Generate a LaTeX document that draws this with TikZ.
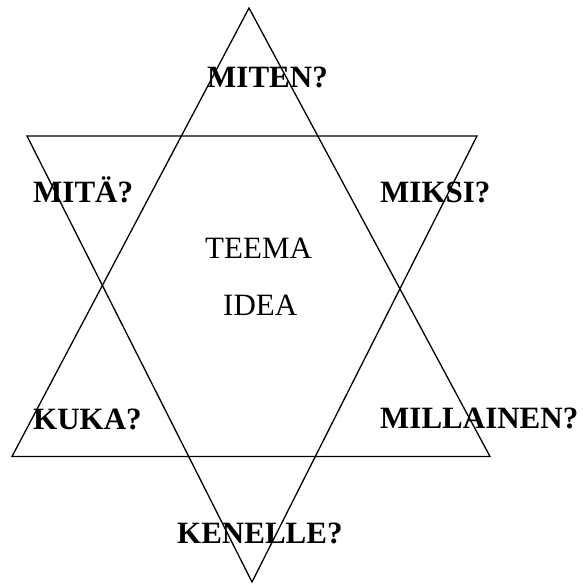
\documentclass[tikz,border=0pt]{standalone}
\usepackage{fontspec}
\setmainfont{Liberation Serif}
\begin{document}
\begin{tikzpicture}[x=1pt,y=-1pt,
  tri/.style={draw=black,line width=1.3pt,line join=miter},
  qlabel/.style={anchor=base west,inner sep=0pt,font=\fontsize{31}{37}\selectfont\bfseries},
  clabel/.style={anchor=base west,inner sep=0pt,font=\fontsize{31}{37}\selectfont}]
\useasboundingbox (0,0) rectangle (583,585);
% upward triangle
\coordinate (u1) at (249,8);
\coordinate (u2) at (12,456.5);
\coordinate (u3) at (490,456.5);
% downward triangle
\coordinate (d1) at (27,136);
\coordinate (d2) at (477,136);
\coordinate (d3) at (252,582);
\draw[tri] (u1) -- (u2) -- (u3) -- cycle;
\draw[tri] (d1) -- (d2) -- (d3) -- cycle;
% labels
\node[qlabel] (miten) at (207,88) {MITEN?};
\node[qlabel] (mita) at (33,202) {MITÄ?};
\node[qlabel] (miksi) at (380,202) {MIKSI?};
\node[qlabel] (kuka) at (33,429) {KUKA?};
\node[qlabel] (millainen) at (380,428) {MILLAINEN?};
\node[qlabel] (kenelle) at (177,543) {KENELLE?};
\node[clabel] (teema) at (205,258) {TEEMA};
\node[clabel] (idea) at (223,315) {IDEA};
\end{tikzpicture}
\end{document}
